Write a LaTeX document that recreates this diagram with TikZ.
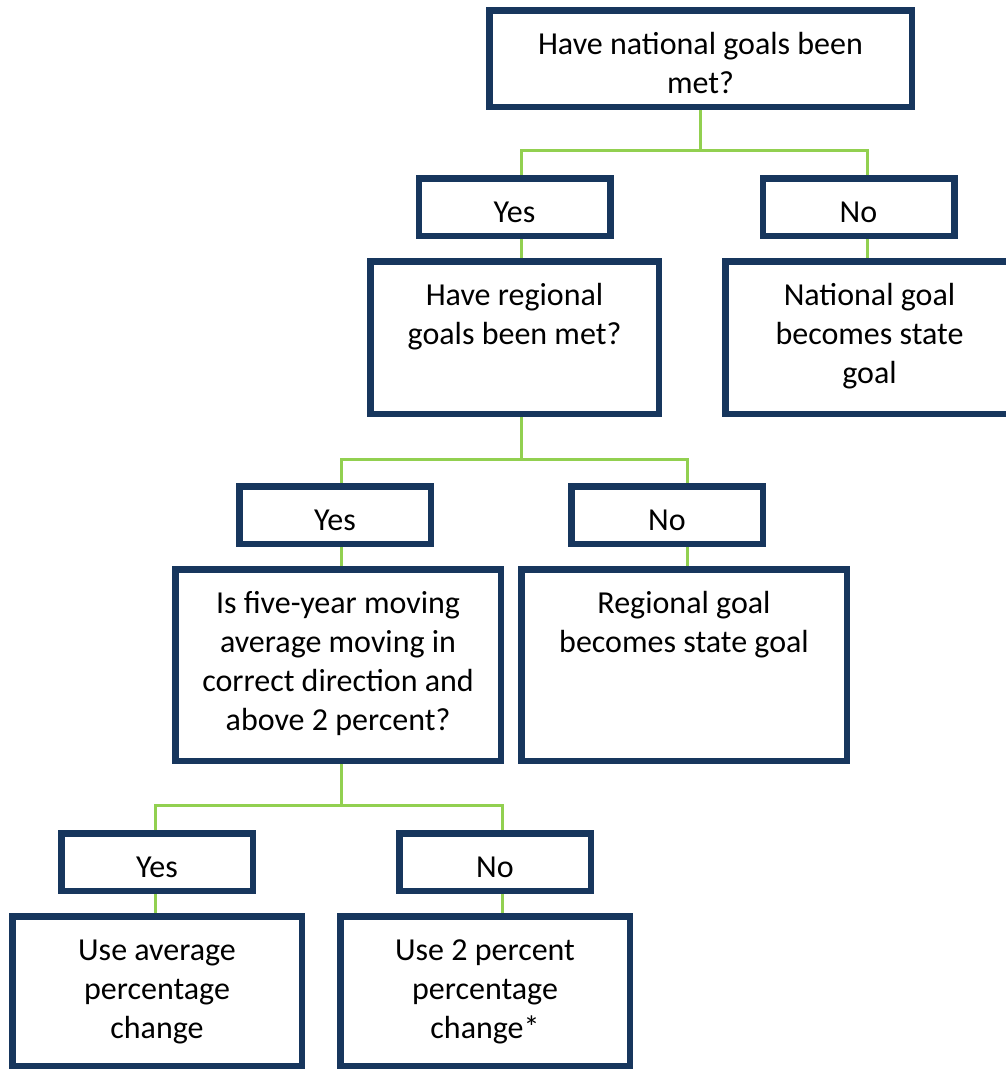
\documentclass[tikz,border=0pt]{standalone}
\usepackage{fontspec}
\setmainfont{Carlito}
\definecolor{navy}{HTML}{17365D}
\definecolor{lgreen}{HTML}{92D050}
\newcommand\tl[1]{\begin{tabular}[t]{@{}c@{}}#1\end{tabular}}
\begin{document}
\begin{tikzpicture}[x=1pt,y=-1pt,
  box/.style={draw=navy, line width=6.5pt, rectangle, inner sep=0pt},
  smallbox/.style={box, minimum width=191.5pt, minimum height=57.5pt},
  txt/.style={font=\fontsize{32}{39}\selectfont, inner sep=0pt, anchor=base, text=black},
  conn/.style={draw=lgreen, line width=3pt}]
\useasboundingbox (0,0) rectangle (1006,1069);
\clip (0,0) rectangle (1006,1069);

% boxes
\node[box, minimum width=422.5pt, minimum height=96.5pt] (nat) at (700.5,58.5) {};
\node[smallbox] (yes1) at (514.5,207) {};
\node[smallbox] (no1) at (858.5,207) {};
\node[box, minimum width=288.5pt, minimum height=152.5pt] (reg) at (514.5,337.5) {};
\node[box, minimum width=288.5pt, minimum height=152.5pt] (natg) at (869.5,337.5) {};
\node[smallbox] (yes2) at (335,515) {};
\node[smallbox] (no2) at (667,515) {};
\node[box, minimum width=325.5pt, minimum height=191.5pt] (five) at (338,665) {};
\node[box, minimum width=325.5pt, minimum height=191.5pt] (regg) at (684,665) {};
\node[smallbox] (yes3) at (157,862) {};
\node[smallbox] (no3) at (495,862) {};
\node[box, minimum width=289.5pt, minimum height=149.5pt] (avg) at (157,991) {};
\node[box, minimum width=289.5pt, minimum height=149.5pt] (pct) at (485,991) {};

% texts
\node[txt] (nat-t) at ([yshift=-47pt]nat.north) {\tl{Have national goals been\\met?}};
\node[txt] (yes1-t) at ([yshift=-47pt]yes1.north) {\tl{Yes}};
\node[txt] (no1-t) at ([yshift=-47pt]no1.north) {\tl{No}};
\node[txt] (reg-t) at ([yshift=-47pt]reg.north) {\tl{Have regional\\goals been met?}};
\node[txt] (natg-t) at ([yshift=-47pt]natg.north) {\tl{National goal\\becomes state\\goal}};
\node[txt] (yes2-t) at ([yshift=-47pt]yes2.north) {\tl{Yes}};
\node[txt] (no2-t) at ([yshift=-47pt]no2.north) {\tl{No}};
\node[txt] (five-t) at ([yshift=-47pt]five.north) {\tl{Is five-year moving\\average moving in\\correct direction and\\above 2 percent?}};
\node[txt] (regg-t) at ([yshift=-47pt]regg.north) {\tl{Regional goal\\becomes state goal}};
\node[txt] (yes3-t) at ([yshift=-47pt]yes3.north) {\tl{Yes}};
\node[txt] (no3-t) at ([yshift=-47pt]no3.north) {\tl{No}};
\node[txt] (avg-t) at ([yshift=-47pt]avg.north) {\tl{Use average\\percentage\\change}};
\node[txt] (pct-t) at ([yshift=-47pt]pct.north) {\tl{Use 2 percent\\percentage\\change*}};

% connectors
\coordinate (b1) at (700.7,150);
\coordinate (d1a) at (521,150);
\coordinate (d1b) at (867,150);
\draw[conn] (nat.south -| b1) -- (b1);
\draw[conn] (yes1.north -| d1a) |- (b1) -| (no1.north -| d1b);
\draw[conn] (yes1.south -| d1a) -- (reg.north -| d1a);
\draw[conn] (no1.south -| d1b) -- (natg.north -| d1b);

\coordinate (b2) at (521,459);
\coordinate (d2a) at (341,459);
\coordinate (d2b) at (687,459);
\draw[conn] (reg.south -| b2) -- (b2);
\draw[conn] (yes2.north -| d2a) |- (b2) -| (no2.north -| d2b);
\draw[conn] (yes2.south -| d2a) -- (five.north -| d2a);
\draw[conn] (no2.south -| d2b) -- (regg.north -| d2b);

\coordinate (b3) at (341,805);
\coordinate (d3a) at (155,805);
\coordinate (d3b) at (502,805);
\draw[conn] (five.south -| b3) -- (b3);
\draw[conn] (yes3.north -| d3a) |- (b3) -| (no3.north -| d3b);
\draw[conn] (yes3.south -| d3a) -- (avg.north -| d3a);
\draw[conn] (no3.south -| d3b) -- (pct.north -| d3b);
\end{tikzpicture}
\end{document}
